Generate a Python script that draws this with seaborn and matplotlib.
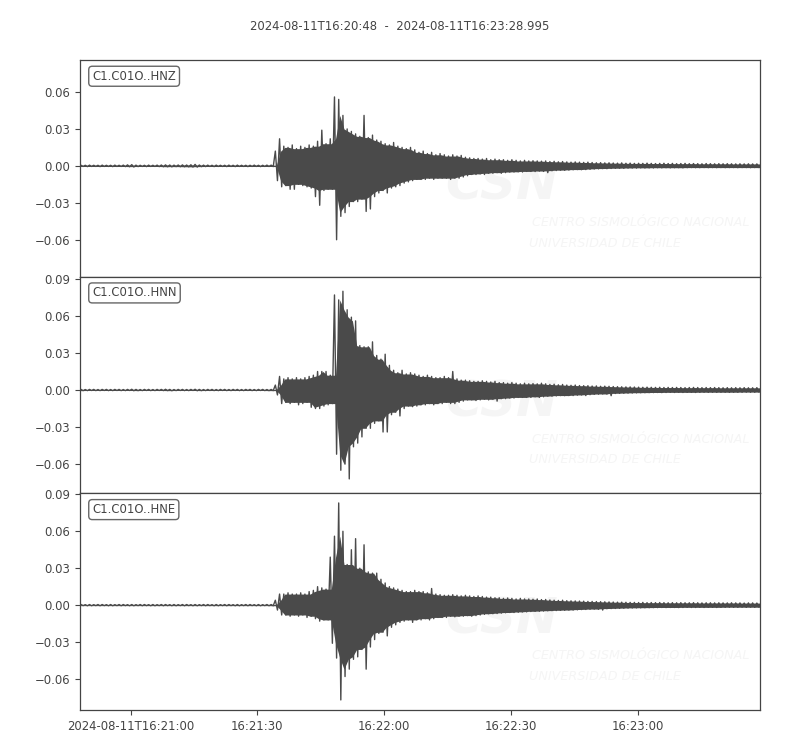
import numpy as np
import pandas as pd
import seaborn as sns
import matplotlib
matplotlib.use("Agg")
import matplotlib.pyplot as plt

# record start / end
start_time = "2024-08-11T16:20:48"
end_label = "2024-08-11T16:23:28.995"
duration = 160.995

channels = ["C1.C01O..HNZ", "C1.C01O..HNN", "C1.C01O..HNE"]

# per-second maximum / minimum of each trace (m/s^2)
hnz_max = [
    0.0005, 0.0005, 0.0006, 0.0005, 0.0005, 0.0006, 0.0005, 0.0005, 0.0006, 0.0005,
    0.0006, 0.0008, 0.0010, 0.0006, 0.0005, 0.0005, 0.0006, 0.0005, 0.0006, 0.0007,
    0.0008, 0.0007, 0.0006, 0.0007, 0.0008, 0.0007, 0.0009, 0.0012, 0.0007, 0.0006,
    0.0006, 0.0005, 0.0006, 0.0005, 0.0005, 0.0006, 0.0005, 0.0006, 0.0005, 0.0005,
    0.0005, 0.0006, 0.0005, 0.0005, 0.0006, 0.0006,
    0.012, 0.022, 0.016, 0.015, 0.017, 0.014, 0.016, 0.015, 0.017, 0.016,
    0.020, 0.029, 0.018, 0.022, 0.056, 0.054, 0.041, 0.030, 0.028, 0.026,
    0.024, 0.041, 0.023, 0.025, 0.021, 0.020, 0.018, 0.017, 0.019, 0.016,
    0.015, 0.014, 0.015, 0.013, 0.011, 0.012, 0.010, 0.011, 0.009, 0.010,
    0.009, 0.008, 0.009, 0.008, 0.0085, 0.007, 0.0065, 0.006, 0.006, 0.0055,
    0.006, 0.005, 0.0055, 0.005, 0.005, 0.0045, 0.005, 0.0045, 0.004, 0.0045,
    0.004, 0.0042, 0.004, 0.0038, 0.004, 0.0035, 0.0037, 0.0033, 0.0035, 0.0032,
    0.003, 0.0032, 0.003, 0.0028, 0.003, 0.0027, 0.0025, 0.0026, 0.0024, 0.0025,
    0.0023, 0.0022, 0.0024, 0.0021, 0.0022, 0.002, 0.0021, 0.002, 0.0022, 0.002,
    0.0019, 0.002, 0.0021, 0.0019, 0.002, 0.0018, 0.0019, 0.002, 0.0018, 0.0019,
    0.0018, 0.0017, 0.0019, 0.0018, 0.0017, 0.0018, 0.0017, 0.0018, 0.0017, 0.0016,
    0.0017, 0.0016, 0.0017, 0.0016, 0.0016,
]
hnz_min = [
    -0.0005, -0.0006, -0.0005, -0.0005, -0.0006, -0.0005, -0.0005, -0.0006, -0.0005, -0.0005,
    -0.0006, -0.0007, -0.0009, -0.0006, -0.0005, -0.0006, -0.0005, -0.0005, -0.0006, -0.0007,
    -0.0007, -0.0008, -0.0006, -0.0007, -0.0007, -0.0008, -0.0009, -0.0010, -0.0006, -0.0006,
    -0.0005, -0.0006, -0.0005, -0.0005, -0.0006, -0.0005, -0.0006, -0.0005, -0.0005, -0.0006,
    -0.0005, -0.0005, -0.0006, -0.0005, -0.0005, -0.0006,
    -0.012, -0.017, -0.016, -0.019, -0.019, -0.015, -0.016, -0.017, -0.018, -0.025,
    -0.032, -0.020, -0.019, -0.019, -0.060, -0.041, -0.038, -0.033, -0.029, -0.029,
    -0.027, -0.037, -0.035, -0.025, -0.022, -0.020, -0.022, -0.018, -0.017, -0.016,
    -0.014, -0.013, -0.012, -0.011, -0.011, -0.011, -0.010, -0.011, -0.010, -0.010,
    -0.010, -0.011, -0.010, -0.010, -0.009, -0.008, -0.007, -0.007, -0.0065, -0.007,
    -0.006, -0.006, -0.0055, -0.006, -0.0055, -0.005, -0.005, -0.0048, -0.005, -0.0045,
    -0.0045, -0.0046, -0.0042, -0.0045, -0.0055, -0.004, -0.0038, -0.0035, -0.0036, -0.0034,
    -0.0032, -0.003, -0.0031, -0.003, -0.0028, -0.0025, -0.0024, -0.0022, -0.0023, -0.0021,
    -0.002, -0.0019, -0.002, -0.0018, -0.0017, -0.0018, -0.0016, -0.0017, -0.0016, -0.0017,
    -0.0015, -0.0016, -0.0015, -0.0016, -0.0015, -0.0015, -0.0016, -0.0015, -0.0014, -0.0015,
    -0.0015, -0.0014, -0.0015, -0.0014, -0.0015, -0.0014, -0.0015, -0.0014, -0.0014, -0.0015,
    -0.0014, -0.0014, -0.0015, -0.0014, -0.0014,
]

hnn_max = [
    0.0005, 0.0004, 0.0005, 0.0005, 0.0004, 0.0005, 0.0005, 0.0004, 0.0005, 0.0005,
    0.0004, 0.0005, 0.0006, 0.0005, 0.0004, 0.0005, 0.0005, 0.0004, 0.0005, 0.0005,
    0.0006, 0.0005, 0.0004, 0.0005, 0.0005, 0.0004, 0.0005, 0.0006, 0.0005, 0.0004,
    0.0005, 0.0005, 0.0004, 0.0005, 0.0005, 0.0004, 0.0005, 0.0005, 0.0004, 0.0005,
    0.0005, 0.0004, 0.0005, 0.0005, 0.0004, 0.0005,
    0.004, 0.011, 0.009, 0.010, 0.009, 0.010, 0.009, 0.010, 0.011, 0.012,
    0.015, 0.015, 0.015, 0.012, 0.077, 0.073, 0.080, 0.065, 0.059, 0.056,
    0.036, 0.035, 0.035, 0.039, 0.028, 0.025, 0.029, 0.020, 0.016, 0.014,
    0.016, 0.013, 0.014, 0.013, 0.012, 0.011, 0.012, 0.011, 0.010, 0.010,
    0.011, 0.010, 0.015, 0.009, 0.008, 0.008, 0.0075, 0.007, 0.007, 0.0075,
    0.007, 0.0065, 0.007, 0.006, 0.006, 0.0055, 0.006, 0.0055, 0.005, 0.0055,
    0.005, 0.0052, 0.005, 0.0055, 0.005, 0.0045, 0.0047, 0.0042, 0.0045, 0.004,
    0.0038, 0.004, 0.0036, 0.0035, 0.0035, 0.0032, 0.0033, 0.003, 0.0031, 0.003,
    0.0028, 0.0027, 0.0026, 0.0025, 0.0025, 0.0024, 0.0023, 0.0022, 0.0023, 0.0022,
    0.0021, 0.0022, 0.002, 0.0021, 0.002, 0.0021, 0.002, 0.0019, 0.002, 0.0021,
    0.002, 0.0019, 0.002, 0.0019, 0.002, 0.0019, 0.0018, 0.0019, 0.0018, 0.0019,
    0.0018, 0.0019, 0.0018, 0.0018, 0.0019,
]
hnn_min = [
    -0.0005, -0.0005, -0.0004, -0.0005, -0.0005, -0.0004, -0.0005, -0.0005, -0.0004, -0.0005,
    -0.0005, -0.0004, -0.0006, -0.0005, -0.0005, -0.0004, -0.0005, -0.0005, -0.0004, -0.0005,
    -0.0005, -0.0006, -0.0005, -0.0004, -0.0005, -0.0005, -0.0004, -0.0006, -0.0005, -0.0005,
    -0.0004, -0.0005, -0.0005, -0.0004, -0.0005, -0.0005, -0.0004, -0.0005, -0.0005, -0.0004,
    -0.0005, -0.0005, -0.0004, -0.0005, -0.0005, -0.0005,
    -0.004, -0.011, -0.010, -0.011, -0.010, -0.012, -0.011, -0.010, -0.014, -0.015,
    -0.015, -0.013, -0.012, -0.011, -0.052, -0.065, -0.060, -0.072, -0.046, -0.043,
    -0.038, -0.031, -0.031, -0.027, -0.025, -0.034, -0.034, -0.020, -0.018, -0.021,
    -0.015, -0.013, -0.0135, -0.013, -0.012, -0.012, -0.011, -0.012, -0.011, -0.011,
    -0.010, -0.011, -0.011, -0.010, -0.009, -0.008, -0.008, -0.0085, -0.008, -0.0075,
    -0.008, -0.0075, -0.009, -0.007, -0.007, -0.0065, -0.0065, -0.006, -0.006, -0.006,
    -0.006, -0.0055, -0.006, -0.0055, -0.005, -0.005, -0.0048, -0.0045, -0.0046, -0.0045,
    -0.0045, -0.0042, -0.004, -0.0045, -0.0038, -0.0035, -0.0034, -0.0032, -0.0033, -0.0046,
    -0.0028, -0.0027, -0.0026, -0.0025, -0.0024, -0.0023, -0.0022, -0.0022, -0.0021, -0.0021,
    -0.002, -0.0021, -0.002, -0.0019, -0.002, -0.0019, -0.002, -0.0019, -0.0019, -0.002,
    -0.0019, -0.0018, -0.0019, -0.0018, -0.0019, -0.0018, -0.0018, -0.0019, -0.0018, -0.0018,
    -0.0018, -0.0017, -0.0018, -0.0018, -0.0017,
]

hne_max = [
    0.0005, 0.0004, 0.0005, 0.0004, 0.0005, 0.0005, 0.0004, 0.0005, 0.0004, 0.0005,
    0.0005, 0.0004, 0.0005, 0.0004, 0.0005, 0.0005, 0.0004, 0.0005, 0.0004, 0.0005,
    0.0005, 0.0004, 0.0005, 0.0004, 0.0005, 0.0005, 0.0004, 0.0005, 0.0004, 0.0005,
    0.0005, 0.0004, 0.0005, 0.0004, 0.0005, 0.0005, 0.0004, 0.0005, 0.0004, 0.0005,
    0.0005, 0.0004, 0.0005, 0.0004, 0.0005, 0.0005,
    0.004, 0.009, 0.009, 0.010, 0.009, 0.009, 0.010, 0.009, 0.011, 0.012,
    0.015, 0.014, 0.013, 0.039, 0.056, 0.083, 0.060, 0.033, 0.045, 0.054,
    0.030, 0.049, 0.027, 0.026, 0.026, 0.021, 0.018, 0.015, 0.014, 0.013,
    0.012, 0.011, 0.011, 0.012, 0.011, 0.011, 0.010, 0.0135, 0.009, 0.0085,
    0.008, 0.008, 0.0085, 0.008, 0.0075, 0.008, 0.0075, 0.007, 0.0075, 0.007,
    0.0065, 0.0065, 0.006, 0.006, 0.0055, 0.0058, 0.0055, 0.005, 0.0055, 0.005,
    0.005, 0.0048, 0.005, 0.0045, 0.0046, 0.0042, 0.004, 0.0038, 0.004, 0.0036,
    0.0035, 0.0034, 0.0033, 0.0032, 0.003, 0.003, 0.0029, 0.0028, 0.0027, 0.0026,
    0.0025, 0.0024, 0.0024, 0.0023, 0.0022, 0.0022, 0.0021, 0.0022, 0.002, 0.0021,
    0.002, 0.0021, 0.002, 0.0019, 0.002, 0.0019, 0.002, 0.0019, 0.0019, 0.002,
    0.0019, 0.0018, 0.0019, 0.0019, 0.0018, 0.0019, 0.0018, 0.0018, 0.0019, 0.0018,
    0.0018, 0.0017, 0.0018, 0.0018, 0.0017,
]
hne_min = [
    -0.0004, -0.0005, -0.0005, -0.0004, -0.0005, -0.0004, -0.0005, -0.0005, -0.0004, -0.0005,
    -0.0004, -0.0005, -0.0005, -0.0004, -0.0005, -0.0004, -0.0005, -0.0005, -0.0004, -0.0005,
    -0.0004, -0.0005, -0.0005, -0.0004, -0.0005, -0.0004, -0.0005, -0.0005, -0.0004, -0.0005,
    -0.0004, -0.0005, -0.0005, -0.0004, -0.0005, -0.0004, -0.0005, -0.0005, -0.0004, -0.0005,
    -0.0004, -0.0005, -0.0005, -0.0004, -0.0005, -0.0005,
    -0.004, -0.008, -0.008, -0.009, -0.008, -0.009, -0.008, -0.010, -0.009, -0.011,
    -0.013, -0.012, -0.012, -0.031, -0.043, -0.077, -0.058, -0.052, -0.044, -0.042,
    -0.036, -0.052, -0.034, -0.028, -0.023, -0.022, -0.025, -0.018, -0.016, -0.014,
    -0.013, -0.012, -0.014, -0.012, -0.012, -0.011, -0.012, -0.011, -0.010, -0.010,
    -0.010, -0.009, -0.0095, -0.009, -0.009, -0.0085, -0.009, -0.0085, -0.008, -0.0075,
    -0.007, -0.007, -0.0068, -0.0065, -0.0062, -0.006, -0.006, -0.0058, -0.0055, -0.0055,
    -0.0052, -0.005, -0.005, -0.0048, -0.0046, -0.0045, -0.0044, -0.0042, -0.0042, -0.004,
    -0.004, -0.0038, -0.0036, -0.0035, -0.0034, -0.0032, -0.0034, -0.004, -0.0029, -0.0028,
    -0.0027, -0.0026, -0.0025, -0.0024, -0.0023, -0.0022, -0.0022, -0.0021, -0.0021, -0.002,
    -0.002, -0.0019, -0.002, -0.0019, -0.0019, -0.002, -0.0019, -0.0018, -0.0019, -0.0019,
    -0.0018, -0.0019, -0.0018, -0.0018, -0.0019, -0.0018, -0.0018, -0.0017, -0.0018, -0.0018,
    -0.0017, -0.0018, -0.0017, -0.0018, -0.0017,
]

trace_max = [hnz_max, hnn_max, hne_max]
trace_min = [hnz_min, hnn_min, hne_min]

y_limits = [(-0.090, 0.086), (-0.0837, 0.0918), (-0.0852, 0.0908)]
y_ticks = [
    [-0.06, -0.03, 0.0, 0.03, 0.06],
    [-0.06, -0.03, 0.0, 0.03, 0.06, 0.09],
    [-0.06, -0.03, 0.0, 0.03, 0.06, 0.09],
]
tick_times = ["16:21:00", "16:21:30", "16:22:00", "16:22:30", "16:23:00"]

# min/max zig-zag per one-second bin (obspy style for long traces)
rows = []
for ch, mx, mn in zip(channels, trace_max, trace_min):
    for sec, (hi, lo) in enumerate(zip(mx, mn)):
        rows.append((ch, sec + 0.25, hi))
        rows.append((ch, sec + 0.75, lo))
df = pd.DataFrame(rows, columns=["channel", "time", "amplitude"])

t0 = pd.Timestamp(start_time)
tick_pos = [(pd.Timestamp("2024-08-11T" + s) - t0).total_seconds() for s in tick_times]
tick_lab = ["2024-08-11T" + tick_times[0]] + tick_times[1:]

sns.set_style("ticks")
plt.rcParams["font.family"] = ["DejaVu Sans"]
grey = "#444444"
line_col = "#4a4a4a"
wm = "#f5f5f5"
narrow = ["Liberation Sans Narrow", "DejaVu Sans"]

fig = plt.figure(figsize=(8, 7.5), dpi=100)
gs = fig.add_gridspec(3, 1, left=0.1, right=0.95, top=0.92, bottom=0.0533, hspace=0)
axes = [fig.add_subplot(gs[i]) for i in range(3)]

for i, (ax, ch) in enumerate(zip(axes, channels)):
    # faint CSN watermark
    ax.text(0.62, 0.42, "CSN", transform=ax.transAxes, fontsize=36, fontweight="bold",
            fontstyle="italic", color=wm, ha="center", va="center", zorder=0)
    ax.text(0.665, 0.25, "CENTRO SISMOLÓGICO NACIONAL", transform=ax.transAxes,
            fontsize=9.2, fontstyle="italic", family=narrow,
            color=wm, ha="left", va="center", zorder=0)
    ax.text(0.66, 0.155, "UNIVERSIDAD DE CHILE", transform=ax.transAxes,
            fontsize=9.2, fontstyle="italic", family=narrow,
            color=wm, ha="left", va="center", zorder=0)

    # solid core: the smaller of neighbouring bin extremes, spikes come from the zig-zag
    up = pd.Series(trace_max[i]).rolling(3, center=True, min_periods=1).min()
    lo = pd.Series(trace_min[i]).rolling(3, center=True, min_periods=1).max()
    xs = np.r_[0, np.arange(len(up)) + 0.5, duration]
    ax.fill_between(xs, np.r_[lo.iloc[0], lo, lo.iloc[-1]], np.r_[up.iloc[0], up, up.iloc[-1]],
                    color=line_col, lw=0, zorder=2)
    sns.lineplot(data=df[df["channel"] == ch], x="time", y="amplitude", sort=False,
                 estimator=None, color=line_col, lw=1.0, ax=ax, zorder=3)

    ax.set_xlim(0, duration)
    ax.set_ylim(*y_limits[i])
    ax.set_yticks(y_ticks[i])
    ax.set_xlabel("")
    ax.set_ylabel("")
    ax.tick_params(axis="y", labelsize=8.4, colors=grey, labelcolor=grey, length=3.5)
    for sp in ax.spines.values():
        sp.set_visible(True)
        sp.set_color(grey)
        sp.set_linewidth(0.9)

    ax.text(0.018, 0.955, ch, transform=ax.transAxes, fontsize=8.4, color=grey,
            ha="left", va="top", zorder=5,
            bbox=dict(boxstyle="round,pad=0.3", fc="white", ec="#666666", lw=1))

    if i < 2:
        ax.tick_params(axis="x", bottom=False, labelbottom=False)
    else:
        ax.set_xticks(tick_pos)
        ax.set_xticklabels(tick_lab)
        ax.tick_params(axis="x", labelsize=8.4, colors=grey, labelcolor=grey, length=3.5)

fig.suptitle(start_time + "  -  " + end_label, y=0.973, fontsize=8.4, color=grey)

fig.savefig("out.png", dpi=100)
